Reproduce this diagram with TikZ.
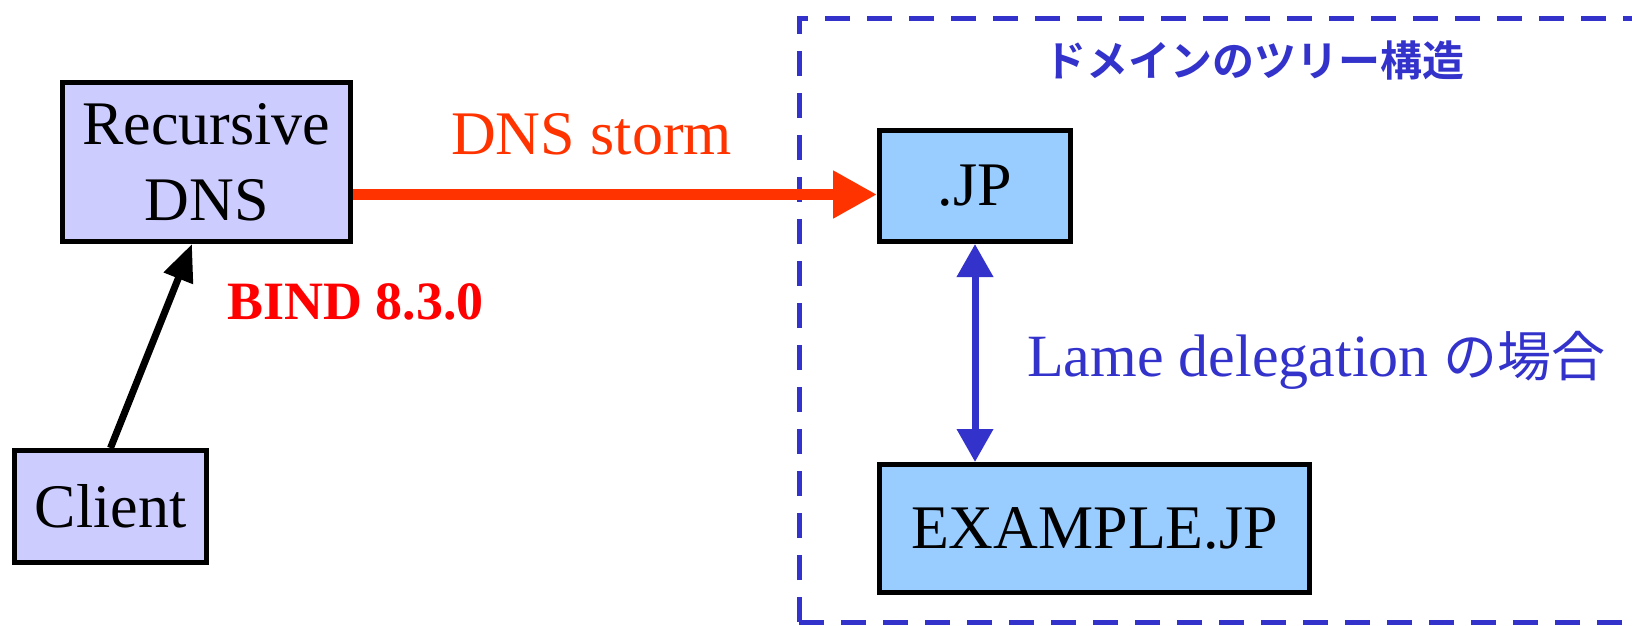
\documentclass[tikz,border=0pt]{standalone}
\usepackage{fontspec}
\setmainfont{Liberation Serif}
\newfontfamily\cjk{Noto Sans CJK JP}
\newfontfamily\cjkbold{Noto Sans CJK JP Bold}
\usetikzlibrary{arrows.meta,calc}
\definecolor{boxpurple}{HTML}{CCCCFF}
\definecolor{boxblue}{HTML}{99CCFF}
\definecolor{stormred}{HTML}{FF3300}
\definecolor{treeblue}{HTML}{3333CC}
\tikzset{
  srvbox/.style={draw=black, line width=5pt, inner sep=0pt, align=center,
    font=\fontsize{62}{76}\selectfont},
  bigtext/.style={inner sep=0pt, font=\fontsize{62}{76}\selectfont},
}
\begin{document}
\begin{tikzpicture}[x=1pt,y=-1pt]
\useasboundingbox (0,0) rectangle (1632,625);
% tree frame
\begin{scope}
\clip (0,0) rectangle (1632,625);
\draw[treeblue, line width=5pt, dash pattern=on 25pt off 17pt]
  (799,622) -- (799,18) -- (1700,18);
\draw[treeblue, line width=5pt, dash pattern=on 25pt off 17pt]
  (799,622) -- (1700,622);
\end{scope}
\node[font=\cjkbold\fontsize{42}{50}\selectfont, text=treeblue, inner sep=0pt]
  (title) at (1254,61) {ドメインのツリー構造};
% boxes
\node[srvbox, fill=boxpurple, minimum width=288pt, minimum height=159pt]
  (rec) at (206.5,162) {Recursive\\DNS};
\node[srvbox, fill=boxpurple, minimum width=192pt, minimum height=112pt]
  (client) at (110.5,506.5) {Client};
\node[srvbox, fill=boxblue, minimum width=191pt, minimum height=111pt]
  (jp) at (975,186) {.JP};
\node[srvbox, fill=boxblue, minimum width=430pt, minimum height=128pt]
  (ex) at (1094.5,528.5) {EXAMPLE.JP};
% labels
\node[bigtext, text=stormred, anchor=base west] (storm) at (451,154) {DNS storm};
\node[inner sep=0pt, text=red, anchor=base west, font=\fontsize{54}{60}\selectfont\bfseries]
  (bind) at (227,319) {BIND 8.3.0};
\node[inner sep=0pt, text=treeblue, anchor=base west, font=\fontsize{60}{72}\selectfont]
  (lame) at (1027,376)
  {Lame delegation {\cjk\fontsize{54}{64}\selectfont の場合}};
% connectors
\draw[line width=7pt, -{Triangle[length=37pt,width=30pt]}]
  (client.north) -- ([xshift=-14.5pt]rec.south);
\draw[stormred, line width=11pt, -{Triangle[length=44pt,width=45pt]}]
  ([yshift=-32.5pt]rec.east) -- ([yshift=-8.5pt]jp.west);
\draw[treeblue, line width=7pt, {Triangle[length=33pt,width=35pt]}-{Triangle[length=33pt,width=35pt]}]
  (jp.south) -- ([xshift=-119.5pt]ex.north);
\end{tikzpicture}
\end{document}
